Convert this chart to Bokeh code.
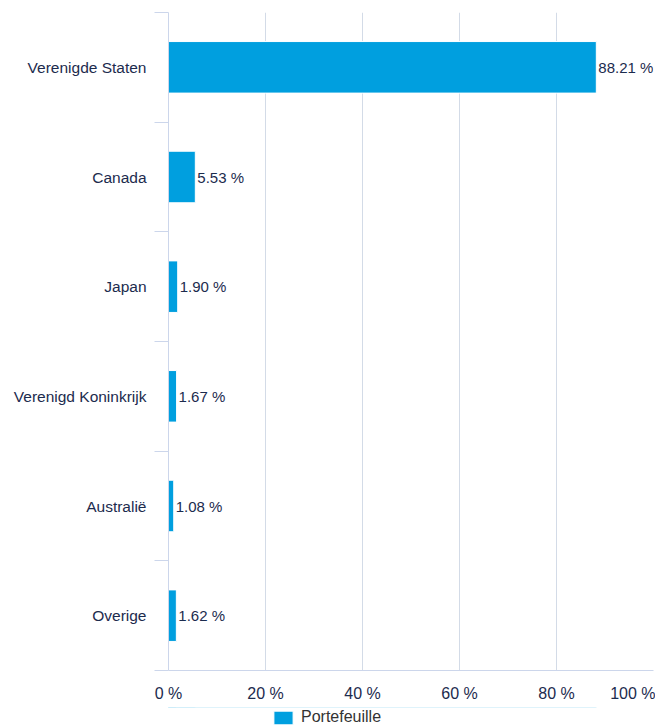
from bokeh.plotting import figure
from bokeh.layouts import column
from bokeh.models import (Range1d, LinearAxis, FixedTicker,
                          Legend, LegendItem, ColumnDataSource)
from bokeh.embed import file_html
from bokeh.resources import INLINE
from bokeh.core.properties import value

categories = ["Verenigde Staten", "Canada", "Japan", "Verenigd Koninkrijk", "Australië", "Overige"]
portfolio = [88.21, 5.53, 1.90, 1.67, 1.08, 1.62]
x_ticks = [0, 20, 40, 60, 80, 100]
x_tick_labels = ["0 %", "20 %", "40 %", "60 %", "80 %", "100 %"]
series_name = "Portefeuille"

FONT = "Liberation Sans"
NAVY = "#1c2b4e"
BAR = "#009fdf"
AXIS = "#ccd6eb"
GRID = "#d3dbe7"

n = len(categories)
y_pos = [n - i - 0.5 for i in range(n)]          # category centres, first at top
bounds = list(range(n + 1))                        # category boundaries
labels = [f"{v:.2f} %" for v in portfolio]
src = ColumnDataSource(dict(y=y_pos, val=portfolio, lab=labels))

p = figure(frame_width=485, frame_height=658, output_backend="svg", toolbar_location=None,
           y_range=Range1d(0, n), x_range=Range1d(0, 100),
           x_axis_location=None, y_axis_location=None,
           min_border_left=168, min_border_right=2, min_border_top=12, min_border_bottom=37)
p.outline_line_color = None
p.background_fill_color = "white"
p.border_fill_color = "white"

r = p.hbar(y="y", right="val", left=0, height=0.47, source=src,
           fill_color=BAR, line_color="white", line_width=1)

p.text(x="val", y="y", text="lab", source=src, x_offset=2,
       text_align="left", text_baseline="middle",
       text_font=value(FONT), text_font_size="15px", text_color=NAVY)

# x axis
xa = LinearAxis(ticker=FixedTicker(ticks=x_ticks))
xa.major_label_overrides = dict(zip(x_ticks, x_tick_labels))
xa.axis_line_color = AXIS
xa.major_tick_line_color = None
xa.minor_tick_line_color = None
xa.major_tick_out = 0
xa.major_tick_in = 0
xa.major_label_standoff = 14
xa.major_label_text_font = FONT
xa.major_label_text_font_size = "16px"
xa.major_label_text_color = NAVY
p.add_layout(xa, "below")

# y category axis: labels at centres, tick marks at boundaries
ca = LinearAxis(ticker=FixedTicker(ticks=y_pos, minor_ticks=bounds))
ca.major_label_overrides = {y: c for y, c in zip(y_pos, categories)}
ca.axis_line_color = AXIS
ca.major_tick_line_color = None
ca.major_tick_out = 0
ca.major_tick_in = 0
ca.minor_tick_line_color = AXIS
ca.minor_tick_out = 14
ca.minor_tick_in = 0
ca.major_label_standoff = 8
ca.major_label_text_font = FONT
ca.major_label_text_font_size = "15.5px"
ca.major_label_text_color = NAVY
p.add_layout(ca, "left")

p.xgrid.ticker = FixedTicker(ticks=x_ticks)
p.xgrid.grid_line_color = GRID
p.ygrid.grid_line_color = None

# legend strip below the chart (its frame is aligned with the chart's frame)
lp = figure(width=655, height=19, output_backend="svg", toolbar_location=None,
            x_range=Range1d(0, 100), y_range=Range1d(-3, -2),
            x_axis_location=None, y_axis_location=None,
            min_border_left=168, min_border_right=2, min_border_top=0, min_border_bottom=0)
lp.outline_line_color = None
lp.xgrid.visible = False
lp.ygrid.visible = False
# same series, drawn outside the strip's visible range: only its legend swatch shows
lr = lp.hbar(y="y", right="val", left=0, height=0.47, source=src,
             fill_color=BAR, line_color="white", line_width=1)
legend = Legend(items=[LegendItem(label=series_name, renderers=[lr])],
                orientation="horizontal", location=(103, 0),
                glyph_width=24, glyph_height=17, label_text_font=FONT,
                label_text_font_size="16px", label_text_color="#333333",
                border_line_color=None, background_fill_alpha=0,
                padding=0, margin=0, spacing=0, label_standoff=6)
lp.add_layout(legend, "center")

layout = column(p, lp, spacing=0)
open("out.html", "w").write(file_html(layout, INLINE))
